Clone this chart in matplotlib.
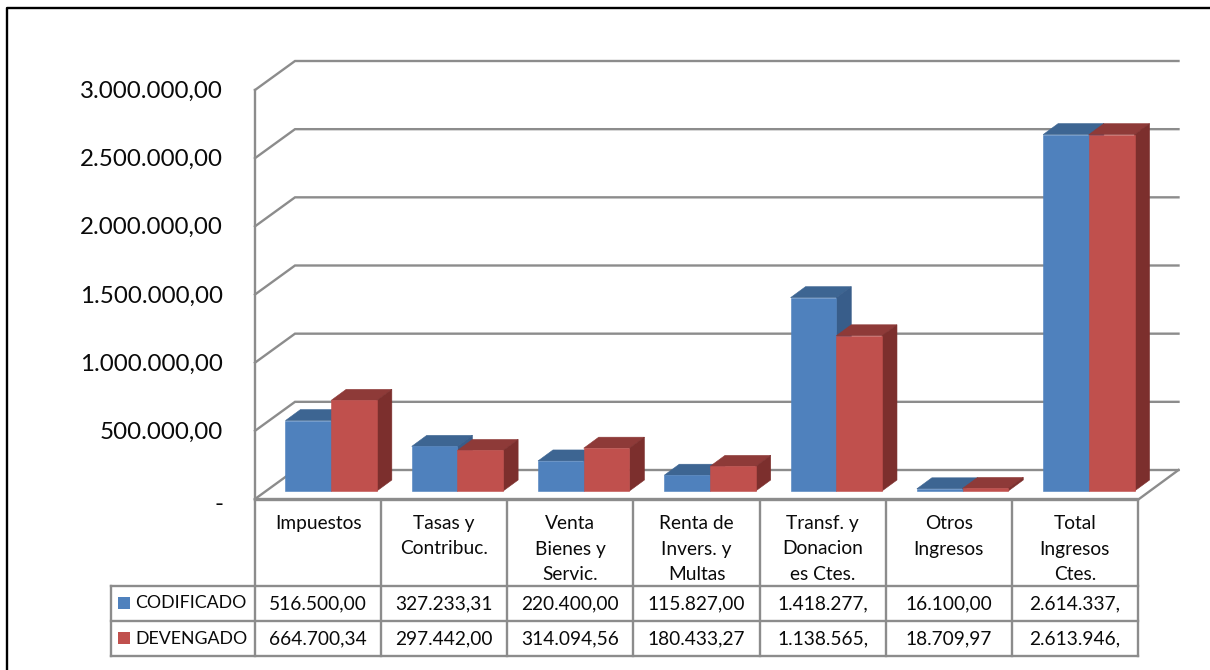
# -*- coding: utf-8 -*-
import matplotlib
matplotlib.use('Agg')
import matplotlib.pyplot as plt

plt.rcParams['font.family'] = ['Lato', 'DejaVu Sans']

categories = ['Impuestos', 'Tasas y\nContribuc.', 'Venta\nBienes y\nServic.',
              'Renta de\nInvers. y\nMultas', 'Transf. y\nDonacion\nes Ctes.',
              'Otros\nIngresos', 'Total\nIngresos\nCtes.']
codificado = [516500.00, 327233.31, 220400.00, 115827.00, 1418277, 16100.00, 2614337]
devengado = [664700.34, 297442.00, 314094.56, 180433.27, 1138565, 18709.97, 2613946]
codificado_txt = ['516.500,00', '327.233,31', '220.400,00', '115.827,00',
                  '1.418.277,', '16.100,00', '2.614.337,']
devengado_txt = ['664.700,34', '297.442,00', '314.094,56', '180.433,27',
                 '1.138.565,', '18.709,97', '2.613.946,']
y_ticks = [0, 500000, 1000000, 1500000, 2000000, 2500000, 3000000]
y_tick_txt = ['-', '500.000,00', '1.000.000,00', '1.500.000,00',
              '2.000.000,00', '2.500.000,00', '3.000.000,00']

W, H = 1210, 670
GREY = '#8c8c8c'
INK = '#0a0a0a'
BLUE = ('#4f81bd', '#3d6592', '#385d8a')
RED = ('#c0504d', '#8e3a38', '#7c2f2d')

fig = plt.figure(figsize=(W / 100, H / 100), dpi=100)

# front plane of the 3d box, the depth is faked with a pixel offset
left, right, y0, y3m = 255, 1139, 499, 90
ax = fig.add_axes([left / W, 1 - y0 / H, (right - left) / W, (y0 - y3m) / H])
ax.set_xlim(0, 7)
ax.set_ylim(0, 3000000)
ax.axis('off')
px_x = 7 / (right - left)
px_y = 3000000 / (y0 - y3m)


def shift(x, v, dx, dy):
    return x + dx * px_x, v + dy * px_y


def quad(pts, color, z):
    xs = [p[0] for p in pts]
    ys = [p[1] for p in pts]
    ax.fill(xs, ys, color=color, lw=0.4, clip_on=False, zorder=z)


# walls and gridlines
for t in y_ticks:
    a = shift(0, t, 0, 0)
    b = shift(0, t, 40, 29)
    c = shift(7, t, 39.5, 29)
    ax.plot([a[0], b[0], c[0]], [a[1], b[1], c[1]], color=GREY, lw=1.7,
            clip_on=False, zorder=1, solid_joinstyle='miter')
ax.plot([0, 0], [0, 3000000], color=GREY, lw=1.7, clip_on=False, zorder=1)
a = shift(7, 0, 0, 0)
b = shift(7, 0, 39.5, 29)
ax.plot([0, a[0], b[0]], [0, a[1], b[1]], color=GREY, lw=1.7, clip_on=False, zorder=1)


def bar(x0, x1, v, cols, z):
    f = (13, 8)
    k = (28, 19)
    quad([shift(x0, 0, *f), shift(x1, 0, *f), shift(x1, v, *f), shift(x0, v, *f)], cols[0], z + 0.2)
    quad([shift(x0, v, *f), shift(x1, v, *f), shift(x1, v, *k), shift(x0, v, *k)], cols[1], z + 0.1)
    quad([shift(x1, 0, *f), shift(x1, 0, *k), shift(x1, v, *k), shift(x1, v, *f)], cols[2], z + 0.1)


bw = 45.7 * px_x
for i in range(len(categories)):
    c = i + 0.5
    bar(c - bw, c, codificado[i], BLUE, 2 + i)
    bar(c, c + bw, devengado[i], RED, 2.5 + i)

# value axis labels, the zero dash sits a bit lower than the numbers
for t, s in zip(y_ticks, y_tick_txt):
    nudge = 1.5 if s != '-' else 5.5
    ax.text(-32 * px_x, t - nudge * px_y, s, ha='right', va='center', fontsize=17.4, color=INK, clip_on=False)

# overlay in pixel coordinates for the frame and the data table
ov = fig.add_axes([0, 0, 1, 1])
ov.set_xlim(0, W)
ov.set_ylim(H, 0)
ov.axis('off')
ov.patch.set_alpha(0)

ov.plot([7, 7, W], [H, 8, 8], color='black', lw=1.7)

tab_right = 1138
cell = (tab_right - left) / 7
rows = [500, 586, 621, 656]
ov.plot([left, tab_right], [rows[0], rows[0]], color=GREY, lw=1.7)
for yy in rows[1:]:
    ov.plot([111, tab_right], [yy, yy], color=GREY, lw=1.7)
ov.plot([111, 111], [rows[1], rows[3]], color=GREY, lw=1.7)
for i in range(8):
    xx = left + i * cell
    ov.plot([xx, xx], [rows[0], rows[3]], color=GREY, lw=1.7)

for i, name in enumerate(categories):
    cx = left + (i + 0.5) * cell
    for j, line in enumerate(name.split('\n')):
        ov.text(cx, 523.5 + j * 25.5, line, ha='center', va='center', fontsize=13.8, color=INK)
    ov.text(cx, 604, codificado_txt[i], ha='center', va='center', fontsize=13.8, color=INK)
    ov.text(cx, 639, devengado_txt[i], ha='center', va='center', fontsize=13.8, color=INK)

for yy, col, lab in [(603, BLUE[0], 'CODIFICADO'), (638, RED[0], 'DEVENGADO')]:
    ov.fill([118, 130, 130, 118], [yy - 6, yy - 6, yy + 6, yy + 6], color=col, lw=0)
    ov.text(135, yy + 0.5, lab, ha='left', va='center', fontsize=12.8, color=INK)

plt.savefig('out.png', dpi=100)
